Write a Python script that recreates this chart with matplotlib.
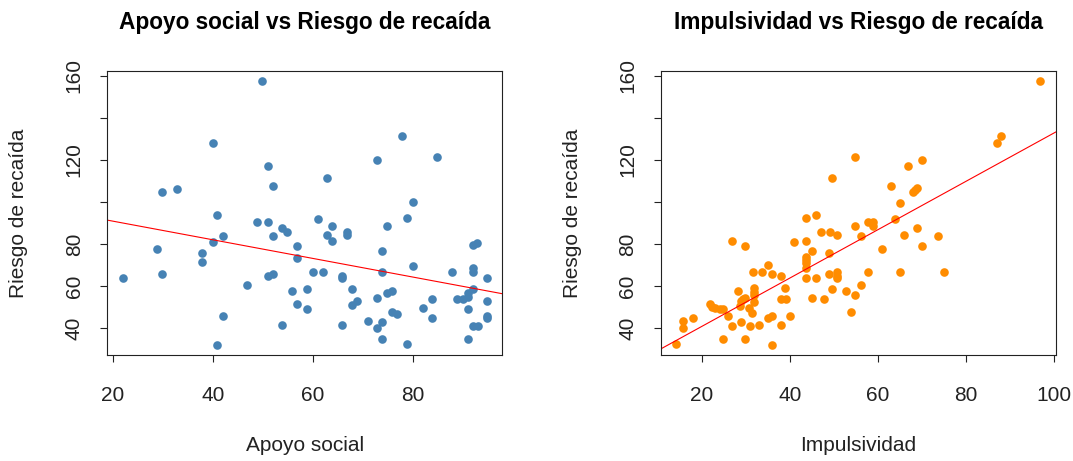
import numpy as np
import matplotlib
matplotlib.use('Agg')
from matplotlib import pyplot as plt

plt.rcParams['font.family'] = ['Liberation Sans', 'DejaVu Sans']

# panel izquierdo: apoyo social vs riesgo
apoyo = [49.9, 40, 51, 52, 29.9, 32.8, 40.9, 48.9, 51, 52, 53.8, 54.9, 42, 40, 28.9, 37.9, 37.9,
         56.9, 56.9, 22, 29.9, 51, 52, 46.9, 55.8, 58.8, 56.9, 58.8, 42, 53.8, 40.9,
         60, 62, 62.8, 61, 63.8, 62.8, 63.8, 66.9, 66.9, 65.9, 65.9, 67.9, 67.9, 68.9, 65.9,
         72.8, 77.9, 84.8, 80, 78.9, 74.9, 73.8, 73.8, 80, 72.8, 74.9, 75.9, 71, 72.8, 73.8,
         73.8, 75.9, 76.9, 78.9, 82, 83.8, 83.8, 87.9, 88.9, 90.1, 91.1, 91.1, 92.1, 92.1,
         92.8, 92.1, 92.1, 94.9, 91.1, 94.9, 94.9, 94.9, 92.1, 93.1, 91.1]
riesgo_a = [157.6, 127.9, 117.2, 107.6, 104.6, 106.3, 93.7, 90.5, 90.5, 83.8, 87.5, 85.6, 83.8, 81.1,
            77.7, 75.9, 71.5, 79.1, 73.5, 63.8, 65.7, 64.8, 65.7, 60.6, 57.7, 58.8, 51.5, 49.0, 46,
            41.6, 31.9,
            66.9, 66.9, 111.3, 91.8, 88.7, 84.5, 81.5, 85.9, 84.3, 64.8, 63.8, 58.8, 50.9, 52.8, 41.6,
            120, 131.4, 121.5, 100, 92.3, 88.7, 76.6, 66.7, 69.7, 54.5, 56.9, 57.7, 43.6, 40, 42.9,
            35.1, 47.9, 46.6, 32.5, 49.5, 53.9, 45, 66.7, 53.9, 53.9, 55, 56.6, 58.8, 79.6,
            80.7, 68.5, 66.7, 63.8, 49, 52.8, 46, 45, 41.1, 41.1, 35.1]

# panel derecho: impulsividad vs riesgo
impuls = [14.1, 15.8, 15.8, 18, 21.9, 22.4, 23, 24.2, 24.9, 24.9, 26, 26.9, 26.9, 28.2, 28.9, 29.4,
          29.8, 28.7, 28.9, 29.8, 29.8, 30.7, 31.4, 31, 33, 31.7, 33.8, 31.9, 31.9, 31.9, 31.9,
          35.1, 35.9, 38, 35.1, 36, 35.9, 38, 38.9, 38, 39.1, 40, 41, 43.8, 45.9, 43.8, 45,
          43.8, 43.8, 43.8, 43.8, 43.8, 45.9, 45, 47.8, 47, 49.1, 49.6, 48.9, 48.9, 49.6,
          50.8, 50.8, 50.8, 50.8, 52.8, 54.8, 54, 56.1, 57.8, 54.8, 54.8, 56.1, 57.8, 59, 59,
          61, 63, 63.9, 65, 65.9, 65, 66.8, 70.1, 67.9, 68.4, 68.9, 68.9, 70.1, 73.7, 75,
          87, 87.9, 96.8]
riesgo_i = [32.5, 43.6, 40, 44.8, 51.4, 50.3, 49.5, 49, 49, 35.1, 46, 81.3, 41.2, 57.7, 52.8, 53.8,
            54.3, 50.6, 42.9, 79.1, 35.1, 49.5, 47.1, 41.2, 41.6, 66.7, 66.7, 59, 57.4, 55.8, 52.6,
            70.1, 65.7, 64.8, 45, 45.8, 31.9, 41.6, 59, 53.8, 53.8, 46, 80.9, 92.4, 93.7, 81.5, 76.6,
            74, 72.4, 70.9, 68.5, 63.8, 63.8, 54.5, 53.9, 85.6, 85.6, 111.3, 75.9, 65.7, 58.8,
            84.3, 66.9, 64.8, 63.8, 57.7, 55.8, 47.9, 60.6, 66.7, 121.5, 88.7, 83.8, 90.4, 90.4, 88.7,
            77.7, 107.6, 91.9, 99.7, 84.3, 66.7, 117.2, 120, 104.6, 105.7, 106.5, 87.5, 79.1, 83.8, 66.7,
            127.9, 131.4, 157.6]

y_ticks = [40, 60, 80, 100, 120, 140, 160]
y_labels = ['40', '60', '80', '', '120', '', '160']


def panel(ax, x, y, color, xticks, xlim, title, xlabel):
    ax.plot(x, y, 'o', color=color, markersize=6.2, markeredgewidth=0)
    b, a = np.polyfit(x, y, 1)
    xs = np.array(xlim)
    ax.plot(xs, a + b * xs, color='red', lw=0.8)
    ax.set_xlim(xlim)
    ax.set_ylim(27.3, 162.4)
    ax.set_xticks(xticks)
    ax.set_xticklabels([str(t) for t in xticks])
    ax.set_yticks(y_ticks)
    ax.set_yticklabels(y_labels, rotation=90, va='center')
    ax.tick_params(direction='out', length=5, width=0.8, labelsize=15, colors='#222222')
    ax.tick_params(axis='x', pad=17)
    ax.tick_params(axis='y', pad=12)
    for s in ax.spines.values():
        s.set_linewidth(0.8)
        s.set_color('#222222')
    ax.set_title(title, fontsize=16.3, fontweight='bold', pad=30)
    ax.set_xlabel(xlabel, fontsize=15, color='#222222')
    ax.xaxis.set_label_coords(0.5, -0.285)
    ax.set_ylabel('Riesgo de recaída', fontsize=15, color='#222222')
    ax.yaxis.set_label_coords(-0.2, 0.5)


fig = plt.figure(figsize=(10.73, 4.61), dpi=100)
ax1 = fig.add_axes([107.3 / 1073, 1 - 355 / 461, 395 / 1073, 284.3 / 461])
ax2 = fig.add_axes([660.7 / 1073, 1 - 355 / 461, 395 / 1073, 284.3 / 461])

panel(ax1, apoyo, riesgo_a, '#4682B4', [20, 40, 60, 80], (18.9, 97.9),
      'Apoyo social vs Riesgo de recaída', 'Apoyo social')
panel(ax2, impuls, riesgo_i, '#FF8C00', [20, 40, 60, 80, 100], (10.7, 100.4),
      'Impulsividad vs Riesgo de recaída', 'Impulsividad')

fig.savefig('out.png', dpi=100)
